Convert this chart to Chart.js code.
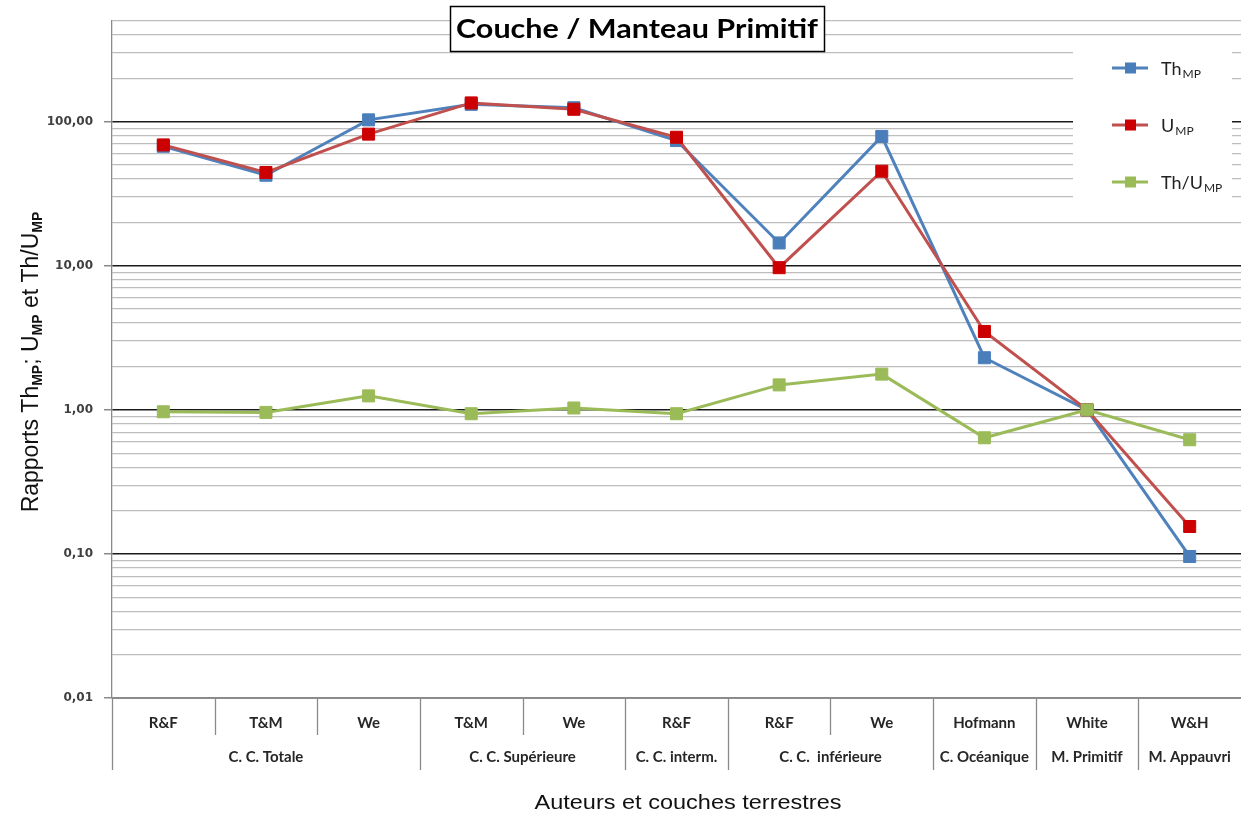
<!DOCTYPE html>
<html>
<head>
<meta charset="utf-8">
<script src="https://cdn.jsdelivr.net/npm/chart.js@4.4.1/dist/chart.umd.min.js"></script>
<style>
html,body{margin:0;padding:0;background:#fff;overflow:hidden;}
#wrap{width:1241px;height:814px;position:relative;}
</style>
</head>
<body>
<div id="wrap"><canvas id="c" width="1241" height="814"></canvas></div>
<script>
// ---- data ----
const authors = ['R&F','T&M','We','T&M','We','R&F','R&F','We','Hofmann','White','W&H'];
const groups = ['C. C. Totale','C. C. Supérieure','C. C. interm.','C. C.  inférieure','C. Océanique','M. Primitif','M. Appauvri'];
const groupSpans = [3,2,1,2,1,1,1];
const thMP = [67.5, 42.5, 103, 132, 125, 74, 14.4, 79, 2.3, 1.0, 0.096];
const uMP  = [69, 44.4, 82, 135, 122, 78, 9.7, 45.3, 3.5, 1.0, 0.155];
const thU  = [0.97, 0.96, 1.25, 0.94, 1.03, 0.94, 1.49, 1.77, 0.64, 1.0, 0.62];
const yDecades = [0.01, 0.1, 1, 10, 100];
const yTickLabels = ['0,01','0,10','1,00','10,00','100,00'];
const yMin = 0.01, yMax = 500;
const seriesNames = [['Th','MP'],['U','MP'],['Th/U','MP']];
const chartTitle = 'Couche / Manteau Primitif';
const xTitle = 'Auteurs et couches terrestres';
const yTitleParts = [['Rapports Th',false],['MP',true],['; U',false],['MP',true],[' et Th/U',false],['MP',true]];

// ---- styles ----
const colors = {
  th:  {line:'#4F81BD', mark:'#4A7EBB'},
  u:   {line:'#C0504D', mark:'#CC0000'},
  thu: {line:'#9BBB59', mark:'#9BBB59'}
};
const catFont = "bold 15px Lato, 'Open Sans', sans-serif";

function isDecade(v){
  const l = Math.log10(v);
  return Math.abs(l - Math.round(l)) < 1e-9;
}

// draw text horizontally stretched to a target width
function stretchedText(c, text, cx, cy, font, targetW){
  c.save();
  c.font = font;
  const w = c.measureText(text).width;
  c.translate(cx, cy);
  c.scale(targetW / w, 1);
  c.textAlign = 'center'; c.textBaseline = 'middle';
  c.fillText(text, 0, 0);
  c.restore();
}

const decor = {
  id:'decor',
  beforeDraw(chart){
    const c = chart.ctx;
    c.save(); c.fillStyle = '#fff'; c.fillRect(0,0,chart.width,chart.height); c.restore();
  },
  afterDraw(chart){
    const c = chart.ctx;
    const xs = chart.scales.x;
    const bottom = chart.chartArea.bottom;
    const step = xs.getPixelForValue(1) - xs.getPixelForValue(0);
    c.save();
    // separators
    const groupBounds = [0];
    groupSpans.forEach(s => groupBounds.push(groupBounds[groupBounds.length-1] + s));
    c.strokeStyle = '#8a8a8a'; c.lineWidth = 1.3;
    for (let i = 0; i <= authors.length; i++) {
      const x = Math.round(xs.getPixelForValue(i) - step/2) + 0.5;
      if (x > chart.width - 3) continue;
      const long = groupBounds.includes(i);
      c.beginPath(); c.moveTo(x, bottom); c.lineTo(x, long ? bottom + 72 : bottom + 37); c.stroke();
    }
    // group labels
    c.fillStyle = '#262626'; c.font = catFont; c.textAlign = 'center'; c.textBaseline = 'middle';
    groups.forEach((g, k) => {
      const a = groupBounds[k], b = groupBounds[k+1] - 1;
      const x = (xs.getPixelForValue(a) + xs.getPixelForValue(b)) / 2;
      c.fillText(g, x, bottom + 59);
    });
    // x title
    c.fillStyle = '#111';
    stretchedText(c, xTitle, 688, 803, "20px 'Liberation Sans', Arial, sans-serif", 307);
    // y title (rotated, with subscripts)
    c.save();
    c.translate(30, 362); c.rotate(-Math.PI/2);
    const mainF = "23px 'Liberation Sans', Arial, sans-serif";
    const subF = "bold 14px 'Liberation Sans', Arial, sans-serif";
    let total = 0;
    yTitleParts.forEach(([t, sub]) => { c.font = sub ? subF : mainF; total += c.measureText(t).width; });
    let px = -total/2;
    c.textAlign = 'left'; c.textBaseline = 'alphabetic'; c.fillStyle = '#111';
    yTitleParts.forEach(([t, sub]) => {
      c.font = sub ? subF : mainF;
      c.fillText(t, px, sub ? 12 : 8);
      px += c.measureText(t).width;
    });
    c.restore();
    // title box
    c.fillStyle = '#fff'; c.fillRect(450, 6, 374, 46);
    c.strokeStyle = '#000'; c.lineWidth = 1.5; c.strokeRect(450.5, 6.5, 374, 45);
    c.fillStyle = '#000';
    stretchedText(c, chartTitle, 637, 30, "bold 26px Lato, 'Open Sans', sans-serif", 362);
    // legend
    c.fillStyle = '#fff'; c.fillRect(1073, 45, 159, 155);
    const ly = [68, 125, 182];
    const lc = [colors.th, colors.u, colors.thu];
    ly.forEach((y, k) => {
      c.strokeStyle = lc[k].line; c.lineWidth = 3;
      c.beginPath(); c.moveTo(1112, y); c.lineTo(1148, y); c.stroke();
      c.fillStyle = lc[k].mark; c.fillRect(1125, y - 5.5, 11, 11);
      c.fillStyle = '#222'; c.textAlign = 'left'; c.textBaseline = 'alphabetic';
      c.font = "18px Lato, 'Open Sans', sans-serif";
      c.fillText(seriesNames[k][0], 1161, y + 7);
      const w = c.measureText(seriesNames[k][0]).width;
      c.font = "12px Lato, 'Open Sans', sans-serif";
      c.fillText(seriesNames[k][1], 1161 + w + 1, y + 10);
    });
    c.restore();
  }
};

function ds(label, data, col, order){
  return {
    label, data, order,
    borderColor: col.line, backgroundColor: col.mark,
    pointBackgroundColor: col.mark, pointBorderColor: col.mark,
    borderWidth: 3, pointStyle: 'rect', pointRadius: 8.5, pointBorderWidth: 1,
    tension: 0, fill: false, clip: false
  };
}

new Chart(document.getElementById('c'), {
  type: 'line',
  data: {
    labels: authors,
    datasets: [
      ds('ThMP', thMP, colors.th, 2),
      ds('UMP', uMP, colors.u, 1),
      ds('Th/UMP', thU, colors.thu, 0)
    ]
  },
  options: {
    responsive: false, animation: false, devicePixelRatio: 1,
    layout: {autoPadding: false, padding: {top: 21, right: 0, bottom: 0, left: 0}},
    plugins: {legend: {display: false}, title: {display: false}, tooltip: {enabled: false}},
    scales: {
      x: {
        type: 'category', offset: true,
        grid: {display: false},
        border: {display: true, color: '#8a8a8a', width: 1.3},
        ticks: {autoSkip: false, maxRotation: 0, padding: 8, color: '#262626', font: {family: "Lato, 'Open Sans', sans-serif", size: 15, weight: 'bold'}},
        afterFit(s){ s.height = 116; s.paddingLeft = 0; s.paddingRight = 0; }
      },
      y: {
        type: 'logarithmic', min: yMin, max: yMax,
        afterBuildTicks(s){
          const t = [];
          yDecades.forEach(d => { for (let k = 1; k <= 9; k++) { const v = +(d*k).toPrecision(6); if (v <= yMax) t.push({value: v}); } });
          s.ticks = t;
        },
        ticks: {
          autoSkip: false, padding: 11, color: '#404040',
          font: {family: "'DejaVu Sans', sans-serif", size: 12, weight: 'bold'},
          callback(v){ const i = yDecades.findIndex(d => Math.abs(d - v) < d*1e-6); return i >= 0 ? yTickLabels[i] : ''; }
        },
        grid: {
          color: c => (c.tick && isDecade(c.tick.value)) ? '#1a1a1a' : '#bdbdbd',
          lineWidth: c => (c.tick && isDecade(c.tick.value)) ? 1.5 : 1.3,
          tickColor: c => (c.tick && isDecade(c.tick.value)) ? '#8a8a8a' : 'rgba(0,0,0,0)',
          tickLength: 8, drawTicks: true
        },
        border: {display: true, color: '#8a8a8a', width: 1.3},
        afterFit(s){ s.width = 112; }
      }
    }
  },
  plugins: [decor]
});
</script>
</body>
</html>
